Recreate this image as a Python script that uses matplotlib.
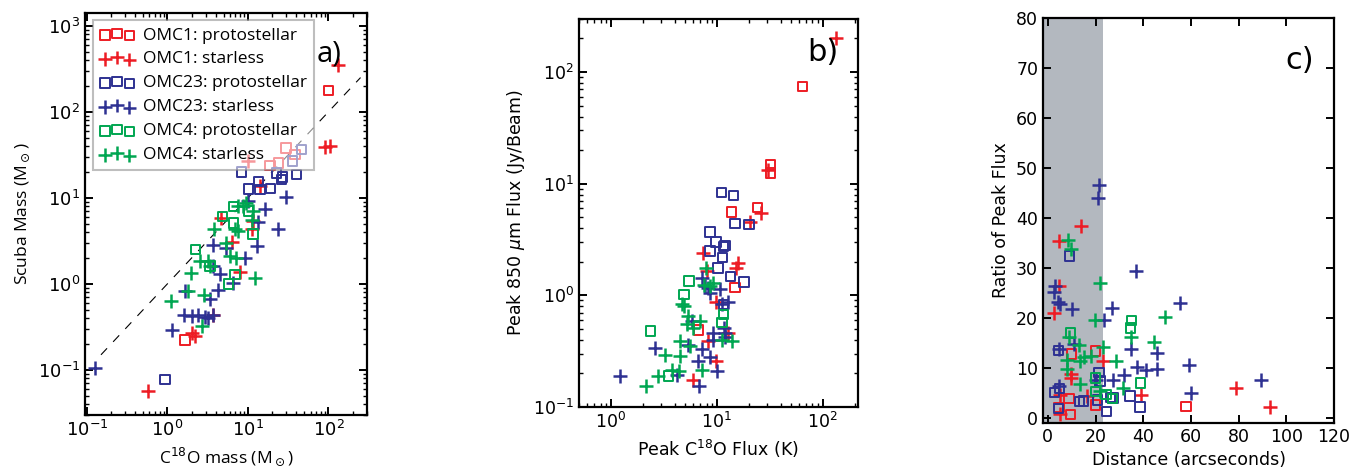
import matplotlib
matplotlib.use("Agg")

import matplotlib.pyplot as plt
from matplotlib.ticker import LogLocator, MultipleLocator

# ========= colours / labels =========
RED = "#ed1c24"
BLUE = "#2e3192"
GREEN = "#00a651"
SHADE = "#b3b8bf"

LABELS = [
    "OMC1: protostellar", "OMC1: starless",
    "OMC23: protostellar", "OMC23: starless",
    "OMC4: protostellar", "OMC4: starless",
]

# ========= a) C18O mass vs SCUBA mass =========
A_OMC1_PS_X = [100, 1.65, 29.7, 18.8, 23.9, 38.5]
A_OMC1_PS_Y = [178, 0.223, 38, 23.7, 25.5, 31.8]
A_OMC1_SL_X = [133, 91, 105, 0.57, 2.05, 2.23, 3.7, 7.9, 4.7, 6.3, 11.1, 11.6, 14.1, 10]
A_OMC1_SL_Y = [352, 38.7, 39.8, 0.057, 0.27, 0.25, 0.44, 1.38, 5.9, 3.1, 4.3, 5.4, 13.7, 26.7]
A_OMC23_PS_X = [0.93, 8.3, 10.1, 13.5, 14.1, 19.1, 22.7, 26.3, 27, 40.4, 35.6, 46.6]
A_OMC23_PS_Y = [0.078, 19.9, 12.7, 15.6, 12.5, 12.8, 19.5, 16.3, 17.5, 18.6, 26.7, 36.3]
A_OMC23_SL_X = [0.125, 1.15, 1.61, 2.41, 3.21, 3.70, 1.64, 3.37, 4.28, 6.6, 4.5, 3.7,
                9.2, 3.7, 5.4, 12.8, 13.5, 16.3, 23.4, 29.7, 10, 2.0, 2.9]
A_OMC23_SL_Y = [0.106, 0.29, 0.43, 0.44, 0.40, 0.44, 0.83, 0.67, 0.86, 1.03, 1.29, 1.61,
                2.0, 2.87, 2.6, 2.75, 5.2, 7.4, 4.4, 10.3, 9.1, 0.42, 0.41]
A_OMC4_PS_X = [2.23, 4.84, 6.6, 6.6, 10.1, 11.6, 6.9, 5.7, 3.37]
A_OMC4_PS_Y = [2.5, 6.1, 7.9, 5.1, 7.0, 3.8, 1.29, 1.0, 1.61]
A_OMC4_SL_X = [1.12, 1.81, 1.99, 2.83, 2.73, 2.53, 3.21, 3.43, 3.81, 5.4, 6.0, 7.2,
               6.9, 7.6, 12.2, 7.6, 8.7, 9.6, 11.6, 11.1]
A_OMC4_SL_Y = [0.63, 0.83, 1.35, 0.75, 0.32, 1.84, 1.84, 1.61, 4.3, 3.0, 2.1, 2.0,
               4.3, 4.1, 1.18, 8.1, 8.0, 8.7, 7.0, 5.6]
ONE_TO_ONE = [0.15, 250]

# ========= b) peak C18O flux vs peak 850um flux =========
B_OMC1_PS_X = [64.8, 32.2, 32.2, 24.1, 13.7, 14.8, 6.7]
B_OMC1_PS_Y = [74, 14.7, 12.5, 6.1, 5.6, 1.17, 0.49]
B_OMC1_SL_X = [133, 30.4, 25.9, 20.4, 15.9, 15.3, 7.4, 9.9, 8.3, 9.9, 6.0, 12.8, 8.0]
B_OMC1_SL_Y = [203, 13.4, 5.5, 4.5, 1.95, 1.76, 2.4, 0.88, 0.39, 0.26, 0.176, 0.46, 1.64]
B_OMC23_PS_X = [11.1, 14.3, 14.8, 20.1, 8.6, 8.6, 9.8, 11.5, 11.9, 11.3, 10.3, 13.5, 18.1, 11.5]
B_OMC23_PS_Y = [8.3, 7.8, 4.4, 4.3, 3.7, 2.5, 3.0, 2.75, 2.8, 2.17, 1.76, 1.48, 1.32, 0.83]
B_OMC23_SL_X = [1.22, 2.61, 4.18, 5.4, 5.8, 6.7, 6.8, 7.3, 8.6, 9.2, 9.2, 10.1, 11.9, 11.9,
                11.7, 12.8, 11.1, 7.2, 7.7, 8.3, 8.6, 10.7]
B_OMC23_SL_Y = [0.19, 0.34, 0.195, 0.36, 0.59, 0.26, 0.153, 0.33, 0.28, 0.46, 0.40, 0.21,
                0.46, 0.42, 0.51, 0.88, 0.83, 1.44, 1.21, 1.17, 1.05, 1.13]
B_OMC4_PS_X = [2.38, 3.48, 4.9, 5.45, 11.5, 11.2]
B_OMC4_PS_Y = [0.48, 0.19, 1.02, 1.34, 0.67, 0.57]
B_OMC4_SL_X = [2.13, 2.81, 3.24, 3.75, 4.49, 4.49, 4.4, 5.57, 4.9, 4.66, 5.4, 5.2, 6.0,
               6.9, 7.9, 7.5, 8.6, 9.2, 7.2, 11.3, 13.9]
B_OMC4_SL_Y = [0.153, 0.191, 0.29, 0.216, 0.284, 0.39, 0.21, 0.35, 0.81, 0.83, 0.65, 0.55,
               0.51, 0.59, 1.76, 1.25, 1.21, 1.29, 0.216, 0.40, 0.39]

# ========= c) distance vs ratio of peak flux =========
C_OMC1_PS_X = [10.0, 20.1, 4.7, 8.9, 9.6, 20.1, 58.0]
C_OMC1_PS_Y = [12.8, 13.4, 2.1, 3.9, 0.7, 2.6, 2.3]
C_OMC1_SL_X = [4.7, 14.1, 4.7, 2.8, 9.6, 9.6, 23.3, 5.0, 16.6, 5.2, 39.0, 79.0, 93.2]
C_OMC1_SL_Y = [35.3, 38.3, 26.3, 20.9, 8.8, 8.0, 11.3, 4.6, 4.4, 0.7, 4.5, 5.9, 2.1]
C_OMC23_PS_X = [9.0, 4.6, 2.9, 5.0, 4.6, 13.2, 15.0, 21.5, 21.9, 20.8, 24.6, 26.3, 27.3, 34.4, 38.7]
C_OMC23_PS_Y = [32.4, 13.5, 5.1, 5.9, 1.9, 3.3, 3.4, 9.1, 7.4, 3.6, 1.3, 4.1, 4.0, 4.4, 2.2]
C_OMC23_SL_X = [21.6, 21.0, 3.2, 2.6, 4.3, 5.0, 10.2, 23.5, 26.9, 37.1, 55.6, 11.0, 4.6, 34.8,
                45.9, 37.3, 41.0, 45.9, 59.0, 31.9, 27.5, 20.1, 60.0, 89.4, 4.7]
C_OMC23_SL_Y = [46.6, 43.9, 26.4, 25.2, 23.1, 22.8, 21.7, 19.6, 22.0, 29.4, 23.0, 14.8, 13.8, 13.8,
                13.0, 10.1, 9.6, 9.8, 10.5, 8.6, 7.6, 7.5, 5.0, 7.6, 6.3]
C_OMC4_PS_X = [9.5, 35.0, 34.7, 38.9, 20.0, 20.1, 24.4, 27.2]
C_OMC4_PS_Y = [17.0, 19.5, 18.0, 7.0, 8.0, 5.3, 4.7, 3.9]
C_OMC4_SL_X = [8.4, 9.7, 21.9, 19.6, 49.0, 8.8, 13.0, 23.1, 34.7, 44.7, 15.2, 18.2, 13.3, 8.1,
               28.4, 7.9, 13.4, 22.0, 31.4]
C_OMC4_SL_Y = [35.6, 33.8, 27.0, 19.6, 20.2, 16.1, 14.6, 14.1, 16.2, 15.2, 12.2, 12.3, 11.4, 11.5,
               11.4, 9.8, 6.7, 5.4, 6.0]
BEAM_EDGE = 23


def draw_points(ax, series):
    colors = [RED, RED, BLUE, BLUE, GREEN, GREEN]
    for i, (x, y) in enumerate(series):
        if i % 2 == 0:
            ax.scatter(x, y, s=46, marker="s", facecolors="none",
                       edgecolors=colors[i], linewidths=1.4, label=LABELS[i], zorder=3)
        else:
            ax.scatter(x, y, s=95, marker="+", color=colors[i],
                       linewidths=1.8, label=LABELS[i], zorder=3)


def style_axes(ax, size=12.5):
    for sp in ax.spines.values():
        sp.set_linewidth(1.6)
    ax.tick_params(which="both", direction="in", top=True, right=True, labelsize=size)
    ax.tick_params(which="major", length=6, width=1.4)
    ax.tick_params(which="minor", length=3, width=1.0)


fig = plt.figure(figsize=(13.62, 4.71), dpi=100)

# ---- panel a ----
ax1 = fig.add_axes([0.0624, 0.119, 0.207, 0.853])
ax1.set_xscale("log")
ax1.set_yscale("log")
ax1.plot(ONE_TO_ONE, ONE_TO_ONE, color="black", lw=0.8, dashes=(8, 8), zorder=2)
draw_points(ax1, [(A_OMC1_PS_X, A_OMC1_PS_Y), (A_OMC1_SL_X, A_OMC1_SL_Y),
                  (A_OMC23_PS_X, A_OMC23_PS_Y), (A_OMC23_SL_X, A_OMC23_SL_Y),
                  (A_OMC4_PS_X, A_OMC4_PS_Y), (A_OMC4_SL_X, A_OMC4_SL_Y)])
ax1.set_xlim(0.095, 300)
ax1.set_ylim(0.03, 1400)
ax1.xaxis.set_major_locator(LogLocator(base=10, numticks=10))
ax1.yaxis.set_major_locator(LogLocator(base=10, numticks=10))
ax1.set_xlabel(r"C$^{18}$O mass (M$_\odot$)", fontsize=12.5, family="Open Sans")
ax1.set_ylabel(r"Scuba Mass (M$_\odot$)", fontsize=12.5, family="Open Sans")
style_axes(ax1, 13)
leg = ax1.legend(loc="upper left", prop={"family": "Open Sans", "size": 12.5},
                 scatterpoints=3, frameon=True, fancybox=False, framealpha=0.55,
                 edgecolor="#8a8a8a", borderpad=0.4, labelspacing=0.45,
                 handletextpad=0.5, borderaxespad=0.0,
                 bbox_to_anchor=(0.028, 0.982))
leg.get_frame().set_linewidth(1.5)
leg.set_zorder(5)
ax1.text(0.91, 0.935, "a)", transform=ax1.transAxes, fontsize=21,
         ha="right", va="top", family="Open Sans")

# ---- panel b ----
ax2 = fig.add_axes([0.4251, 0.136, 0.2048, 0.824])
ax2.set_xscale("log")
ax2.set_yscale("log")
draw_points(ax2, [(B_OMC1_PS_X, B_OMC1_PS_Y), (B_OMC1_SL_X, B_OMC1_SL_Y),
                  (B_OMC23_PS_X, B_OMC23_PS_Y), (B_OMC23_SL_X, B_OMC23_SL_Y),
                  (B_OMC4_PS_X, B_OMC4_PS_Y), (B_OMC4_SL_X, B_OMC4_SL_Y)])
ax2.set_xlim(0.5, 215)
ax2.set_ylim(0.1, 300)
ax2.set_xlabel(r"Peak C$^{18}$O Flux (K)", fontsize=12.5)
ax2.set_ylabel(r"Peak 850 $\mu$m Flux (Jy/Beam)", fontsize=12.5)
style_axes(ax2)
ax2.text(0.93, 0.95, "b)", transform=ax2.transAxes, fontsize=22, ha="right", va="top")

# ---- panel c ----
ax3 = fig.add_axes([0.7658, 0.102, 0.2137, 0.860])
ax3.axvspan(-2, BEAM_EDGE, color=SHADE, lw=0, zorder=1)
draw_points(ax3, [(C_OMC1_PS_X, C_OMC1_PS_Y), (C_OMC1_SL_X, C_OMC1_SL_Y),
                  (C_OMC23_PS_X, C_OMC23_PS_Y), (C_OMC23_SL_X, C_OMC23_SL_Y),
                  (C_OMC4_PS_X, C_OMC4_PS_Y), (C_OMC4_SL_X, C_OMC4_SL_Y)])
ax3.set_xlim(-2, 120)
ax3.set_ylim(-1, 80)
ax3.xaxis.set_major_locator(MultipleLocator(20))
ax3.yaxis.set_major_locator(MultipleLocator(10))
ax3.set_xlabel("Distance (arcseconds)", fontsize=12.5)
ax3.set_ylabel("Ratio of Peak Flux", fontsize=12.5)
style_axes(ax3)
ax3.text(0.93, 0.93, "c)", transform=ax3.transAxes, fontsize=22, ha="right", va="top")

plt.savefig("out.png", dpi=100)
plt.close()
